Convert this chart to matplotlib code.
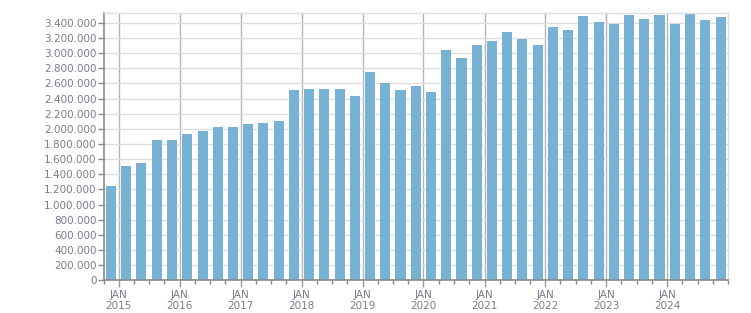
import matplotlib
matplotlib.use("Agg")
import matplotlib.pyplot as plt
import matplotlib.dates as mdates
import matplotlib.ticker as mticker
import pandas as pd
import numpy as np

# Quarterly values, Q4 2014 .. Q4 2024
quarters = pd.period_range("2014Q4", "2024Q4", freq="Q")
values = [1245000, 1509000, 1548000, 1852000, 1852000, 1931000, 1970000, 2023000,
          2023000, 2063000, 2076000, 2102000, 2512000, 2525000, 2525000, 2525000,
          2432000, 2749000, 2604000, 2512000, 2564000, 2485000, 3039000, 2934000,
          3105000, 3158000, 3277000, 3185000, 3105000, 3343000, 3303000, 3488000,
          3409000, 3382000, 3501000, 3448000, 3501000, 3382000, 3514000, 3435000,
          3474000]
year_labels = [str(y) for y in range(2015, 2025)]

bar_color = "#77b1d3"
text_color = "#7b7b8c"

fig = plt.figure(figsize=(7.51, 3.13), dpi=100)
ax = fig.add_axes([103.5 / 751, 1 - 280.3 / 313, (728.3 - 103.5) / 751, (280.3 - 13.3) / 313])

starts = mdates.date2num(quarters.start_time)
ends = mdates.date2num((quarters + 1).start_time)
centers = (starts + ends) / 2
widths = (ends - starts) * 0.66
ax.bar(centers, values, width=widths, color=bar_color, zorder=2)

ax.set_xlim(mdates.date2num(pd.Timestamp("2014-10-01")), mdates.date2num(pd.Timestamp("2025-01-01")))
ax.set_ylim(0, 3525000)

# y axis
ax.yaxis.set_major_locator(mticker.MultipleLocator(200000))
ax.yaxis.set_major_formatter(mticker.FuncFormatter(lambda v, p: f"{int(v):,}".replace(",", ".")))
ax.grid(axis="y", color="#dedede", linewidth=1.0, zorder=0)

# x axis
jan_dates = [pd.Timestamp(f"{y}-01-01") for y in range(2015, 2025)]
ax.set_xticks(mdates.date2num(jan_dates))
ax.set_xticklabels([f"JAN\n{y}" for y in year_labels])
minor = pd.date_range("2014-10-01", "2025-01-01", freq="QS")
ax.set_xticks(mdates.date2num(minor), minor=True)
ax.grid(axis="x", which="major", color="#b4b4b4", linewidth=1.0, zorder=1)

ax.tick_params(axis="y", which="major", length=4, width=1, color="#888888",
               labelsize=7.5, labelcolor=text_color, pad=1)
ax.tick_params(axis="x", which="major", length=5, width=1, color="#999999",
               labelsize=7.5, labelcolor=text_color, pad=2)
ax.tick_params(axis="x", which="minor", length=3, width=1, color="#888888")

for s in ["top", "right"]:
    ax.spines[s].set_color("#dedede")
    ax.spines[s].set_linewidth(1.0)
ax.spines["left"].set_color("#8a8a8a")
ax.spines["bottom"].set_color("#8a8a8a")
ax.spines["left"].set_linewidth(1.2)
ax.spines["bottom"].set_linewidth(1.2)
for lab in ax.get_xticklabels():
    lab.set_linespacing(1.15)

fig.savefig("out.png", dpi=100)
